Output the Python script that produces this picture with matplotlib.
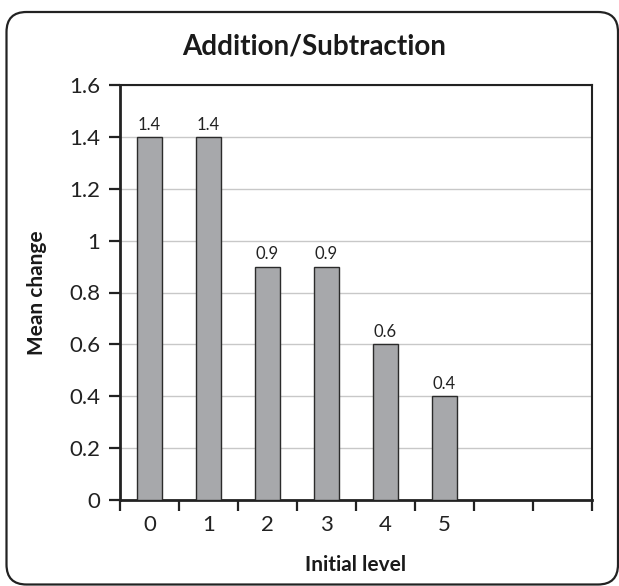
import numpy as np
import matplotlib.pyplot as plt
from matplotlib.patches import FancyBboxPatch
from matplotlib.transforms import IdentityTransform

plt.rcParams['font.family'] = ['Lato', 'DejaVu Sans']

# data
levels = ["0", "1", "2", "3", "4", "5", "", ""]
mean_change = [1.4, 1.4, 0.9, 0.9, 0.6, 0.4]
value_labels = ["1.4", "1.4", "0.9", "0.9", "0.6", "0.4"]
y_ticks = [0, 0.2, 0.4, 0.6, 0.8, 1, 1.2, 1.4, 1.6]
y_ticklabels = ["0", "0.2", "0.4", "0.6", "0.8", "1", "1.2", "1.4", "1.6"]

W, H = 619, 586
fig = plt.figure(figsize=(W / 100, H / 100), dpi=100)
ax = fig.add_axes([120 / W, 1 - 500 / H, 472 / W, 415 / H])

centers = np.arange(len(mean_change)) + 0.5
ax.bar(centers, mean_change, width=0.41, color="#a7a8ab",
       edgecolor="#2b2b2b", linewidth=1.0, zorder=3)
for x, v, lab in zip(centers, mean_change, value_labels):
    ax.annotate(lab, (x, v), xytext=(0, 3), textcoords="offset points",
                ha="center", va="bottom", fontsize=12, color="#222222")

ax.set_xlim(0, len(levels))
ax.set_ylim(0, 1.6)
ax.set_yticks(y_ticks)
ax.set_yticklabels(y_ticklabels, fontsize=16, color="#222222")
ax.yaxis.grid(True, color="#c8c8c8", linewidth=1.0, zorder=0)

# category boundaries get tick marks, category centres get labels
ax.set_xticks(np.arange(len(levels) + 1))
ax.set_xticklabels([])
ax.set_xticks(np.arange(len(levels)) + 0.5, minor=True)
ax.set_xticklabels(levels, minor=True, fontsize=16, color="#222222")
ax.tick_params(axis="x", which="major", direction="out", length=8, width=1.6, color="#222222")
ax.tick_params(axis="x", which="minor", length=0, pad=11)
ax.tick_params(axis="y", direction="out", length=8, width=1.6, color="#222222", pad=6)

for side in ["left", "bottom"]:
    ax.spines[side].set_linewidth(2.0)
    ax.spines[side].set_color("#222222")
for side in ["top", "right"]:
    ax.spines[side].set_linewidth(1.5)
    ax.spines[side].set_color("#222222")

fig.text(314 / W, 1 - 47 / H, "Addition/Subtraction", ha="center", va="center",
         fontsize=20, fontweight="bold", color="#1a1a1a")
fig.text(37 / W, 1 - 293 / H, "Mean change", ha="center", va="center",
         rotation=90, fontsize=15, fontweight="bold", color="#1a1a1a")
fig.text(356 / W, 1 - 565 / H, "Initial level", ha="center", va="center",
         fontsize=15, fontweight="bold", color="#1a1a1a")

# rounded outer frame, in pixel coordinates
frame = FancyBboxPatch((6.5, 1.5), 611.5, 572.5,
                       boxstyle="round,pad=0,rounding_size=20",
                       transform=IdentityTransform(), fill=False,
                       edgecolor="#222222", linewidth=1.6)
fig.patches.append(frame)

fig.savefig("out.png", dpi=100)
